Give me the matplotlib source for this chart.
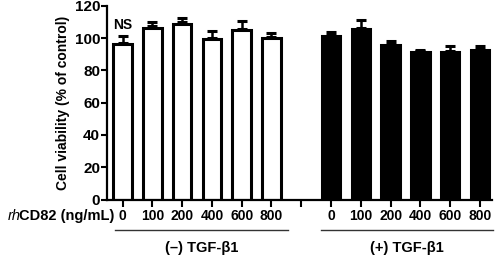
import matplotlib
matplotlib.use("Agg")
import matplotlib.pyplot as plt
import matplotlib.transforms as mtransforms

plt.rcParams['font.family'] = ['Liberation Sans', 'DejaVu Sans']
plt.rcParams['font.weight'] = 'bold'

doses = ["0", "100", "200", "400", "600", "800"]
neg_means = [96.5, 106.5, 109.0, 99.5, 105.0, 100.0]
neg_err = [4.0, 3.0, 3.0, 4.0, 5.0, 2.5]
pos_means = [101.5, 105.5, 95.5, 91.5, 91.5, 92.5]
pos_err = [1.8, 5.0, 2.0, 0.4, 3.0, 2.0]
group_labels = ["(\u2013) TGF-\u03b21", "(+) TGF-\u03b21"]

fig = plt.figure(figsize=(4.98, 2.56), dpi=100)
ax = fig.add_axes([0.2149, 0.2207, 0.773, 0.756])

xneg = list(range(6))
xpos = list(range(7, 13))
bw = 0.62
ax.bar(xneg, neg_means, width=bw, color='white', edgecolor='black', linewidth=2.2, zorder=2)
ax.bar(xpos, pos_means, width=bw, color='black', edgecolor='black', linewidth=2.2, zorder=2)
for xs, ms, es in [(xneg, neg_means, neg_err), (xpos, pos_means, pos_err)]:
    ax.errorbar(xs, [m + 0.8 for m in ms], yerr=[[0]*len(es), es], fmt='none', ecolor='black',
                elinewidth=1.8, capsize=3.6, capthick=2.2, zorder=1)

ax.set_xlim(-0.52, 12.4)
ax.set_ylim(0, 120)
ax.set_yticks([0, 20, 40, 60, 80, 100, 120])
ax.set_xticks(list(range(13)))
ax.set_xticklabels(doses + [""] + doses)
ax.tick_params(axis='y', labelsize=11, length=4, width=1.5, pad=1)
ax.tick_params(axis='x', labelsize=10, length=5, width=1.5, pad=2)
for lab in ax.get_xticklabels() + ax.get_yticklabels():
    lab.set_fontweight('bold')
for s in ['top', 'right']:
    ax.spines[s].set_visible(False)
for s in ['left', 'bottom']:
    ax.spines[s].set_linewidth(1.6)

ax.set_ylabel("Cell viability (% of control)", fontsize=10, fontweight='bold', labelpad=3)

ax.text(0, 108, "NS", ha='center', va='center', fontsize=10, fontweight='bold')

trans = mtransforms.blended_transform_factory(ax.transData, ax.transAxes)
t = ax.text(-0.27, -0.085, "CD82 (ng/mL)", transform=trans, ha='right', va='center',
            fontsize=10.5, fontweight='bold')
ax.annotate("rh", xy=(0.015, 0.5), xycoords=t, ha='right', va='center', fontsize=10.5,
            fontweight='normal', style='italic')
for (x0, x1), lab in zip([(-0.25, 5.55), (6.66, 12.43)], group_labels):
    ax.plot([x0, x1], [-0.158, -0.158], transform=trans, color='#333333', lw=1, clip_on=False)
    ax.text((x0 + x1) / 2, -0.25, lab, transform=trans, ha='center', va='center',
            fontsize=10.5, fontweight='bold')

fig.savefig("out.png", dpi=100)
